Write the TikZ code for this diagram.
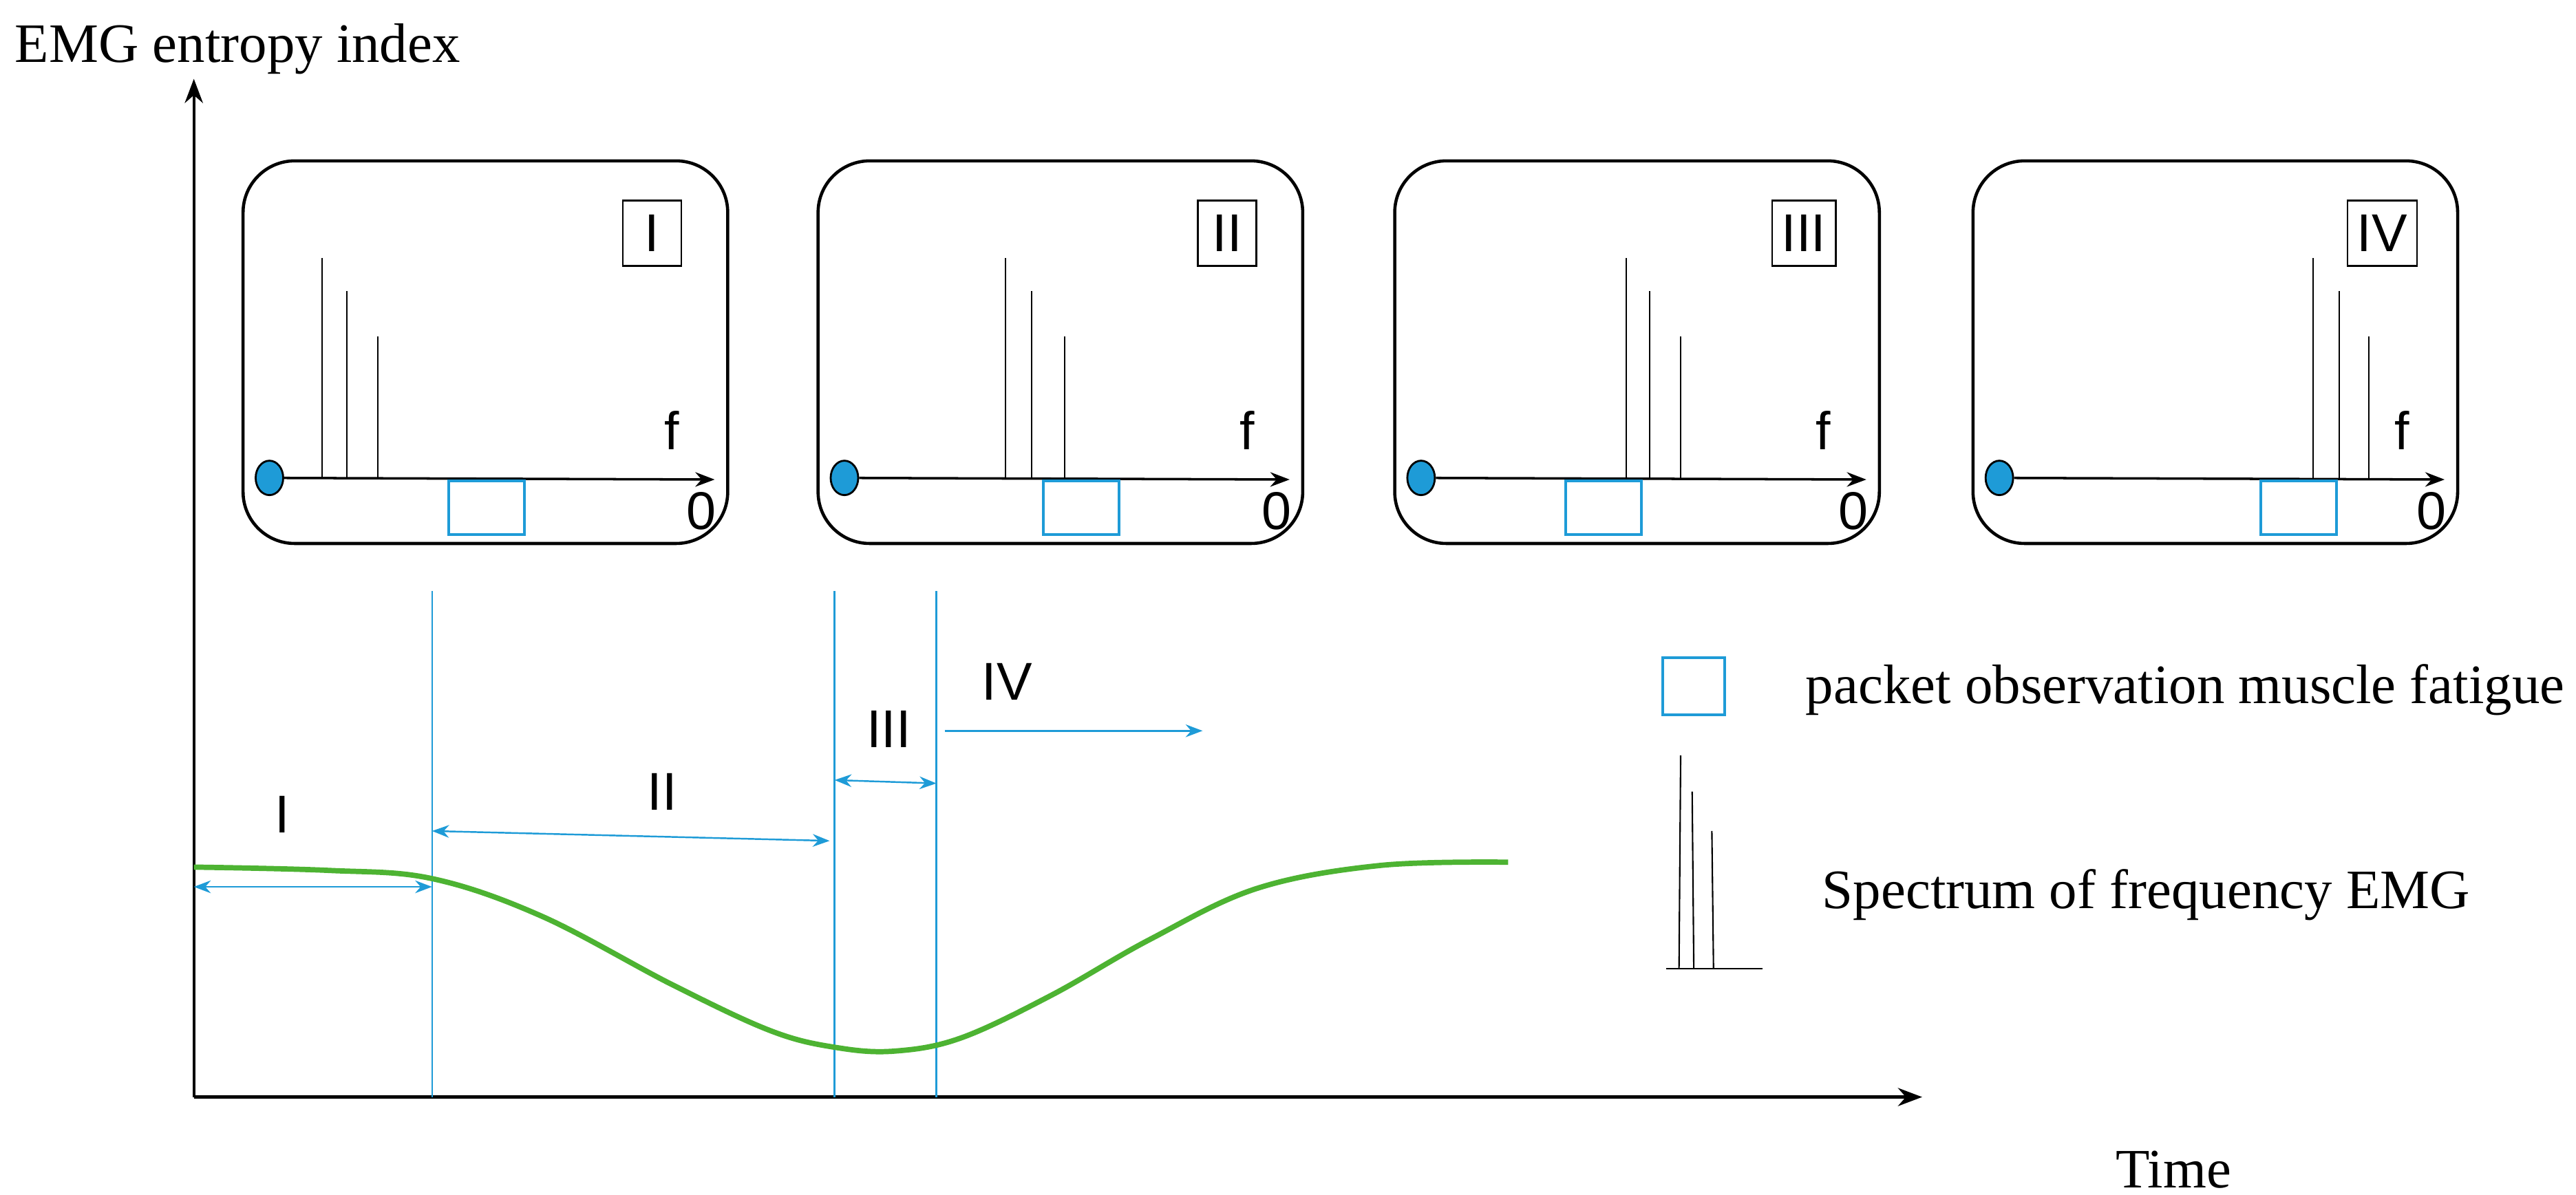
\documentclass[tikz,border=0pt]{standalone}
\usepackage{fontspec}
\setmainfont{Liberation Serif}
\newfontfamily\sansf{Liberation Sans}
\usetikzlibrary{arrows.meta,shapes.geometric}
\definecolor{bl}{HTML}{1E9BD7}
\definecolor{gr}{HTML}{4DB332}
\begin{document}
\begin{tikzpicture}[x=0.02387cm,y=-0.02387cm,
  panel/.style={draw,line width=1.3pt,rounded corners=0.75cm,minimum width=7.04cm,minimum height=5.56cm,anchor=north west},
  lab/.style={draw,line width=0.7pt,minimum width=0.85cm,minimum height=0.95cm,inner sep=4pt,font=\sansf\fontsize{22}{24}\selectfont},
  sans/.style={font=\sansf\fontsize{22}{24}\selectfont},
  serif/.style={font=\fontsize{23}{27}\selectfont},
  pk/.style={draw=bl,line width=1.1pt,minimum width=1.1cm,minimum height=0.78cm,inner sep=0pt},
  spk/.style={line width=0.6pt},
  vl/.style={draw=bl,line width=0.7pt},
  ba/.style={draw=bl,line width=0.7pt,{Stealth[length=7pt]}-{Stealth[length=7pt]}},
  ra/.style={draw=bl,line width=0.7pt,-{Stealth[length=7pt]}}]
\useasboundingbox (0,0) rectangle (1568,727.3);
% axes
\coordinate (o) at (118,668);
\coordinate (ytop) at (118,48);
\coordinate (xend) at (1170,668);
\draw[line width=1.2pt,-{Stealth[length=10pt]}] (o) -- (ytop);
\draw[line width=1.2pt,-{Stealth[length=10pt]}] (o) -- (xend);
\node[serif,anchor=west] (ylab) at (4,30) {EMG entropy index};
\node[serif] (tlab) at (1323,712) {Time};
% panels
\foreach \n/\L/\a/\b/\c/\pb/\t in {1/147/196/211/230/296/I,2/497/612/628/648/658/II,3/848/990/1004/1023/976/III,4/1200/1408/1424/1442/1399/IV}{
  \node[panel] (p\n) at (\L,97) {};
  \node[draw,line width=0.8pt,fill=bl,ellipse,minimum width=0.4cm,minimum height=0.5cm,inner sep=0pt] (d\n) at (\L+17,291) {};
  \coordinate (t\n) at (\L+288,292);
  \draw[line width=1pt,-{Stealth[length=8pt]}] (d\n) -- (t\n);
  \draw[spk] (\a,291) -- (\a,157);
  \draw[spk] (\b,291) -- (\b,177);
  \draw[spk] (\c,292) -- (\c,205);
  \node[lab] (l\n) at (\L+250,142) {\t};
  \node[sans] (f\n) at (\L+262,262) {f};
  \node[sans] (z\n) at (\L+280,311) {0};
  \node[pk] (b\n) at (\pb,309) {};
}
% vertical lines
\foreach \n/\x in {1/263,2/508,3/570}{
  \coordinate (vt\n) at (\x,360);
  \coordinate (vb\n) at (\x,668);
  \draw[vl] (vt\n) -- (vb\n);
}
% phase arrows
\coordinate (a1s) at (118,540); \coordinate (a1e) at (263,540);
\draw[ba] (a1s) -- (a1e);
\node[sans] (n1) at (172,496) {I};
\coordinate (a2s) at (263,506); \coordinate (a2e) at (505,512);
\draw[ba] (a2s) -- (a2e);
\node[sans] (n2) at (403,482) {II};
\coordinate (a3s) at (508,475); \coordinate (a3e) at (570,477);
\draw[ba] (a3s) -- (a3e);
\node[sans] (n3) at (541,444) {III};
\coordinate (a4s) at (575,445); \coordinate (a4e) at (732,445);
\draw[ra] (a4s) -- (a4e);
\node[sans] (n4) at (613,415) {IV};
% curve
\draw[gr,line width=2.2pt] plot[smooth,tension=0.6] coordinates {(118,528) (200,530) (263,535) (330,558) (410,600) (470,628) (510,638) (545,640) (585,632) (640,606) (700,572) (765,541) (840,527) (918,525)};
% legend
\node[pk,minimum width=0.9cm,minimum height=0.83cm] (lgb) at (1031,418) {};
\node[serif,anchor=west] (lgt) at (1094,420) {packet observation muscle fatigue};
\coordinate (s0) at (1014,590); \coordinate (s1) at (1073,590);
\draw[spk] (s0) -- (s1);
\draw[spk] (1022,590) -- (1023,460);
\draw[spk] (1031,590) -- (1030,482);
\draw[spk] (1043,590) -- (1042,506);
\node[serif,anchor=west] (lgs) at (1104,545) {Spectrum of frequency EMG};
\end{tikzpicture}
\end{document}
